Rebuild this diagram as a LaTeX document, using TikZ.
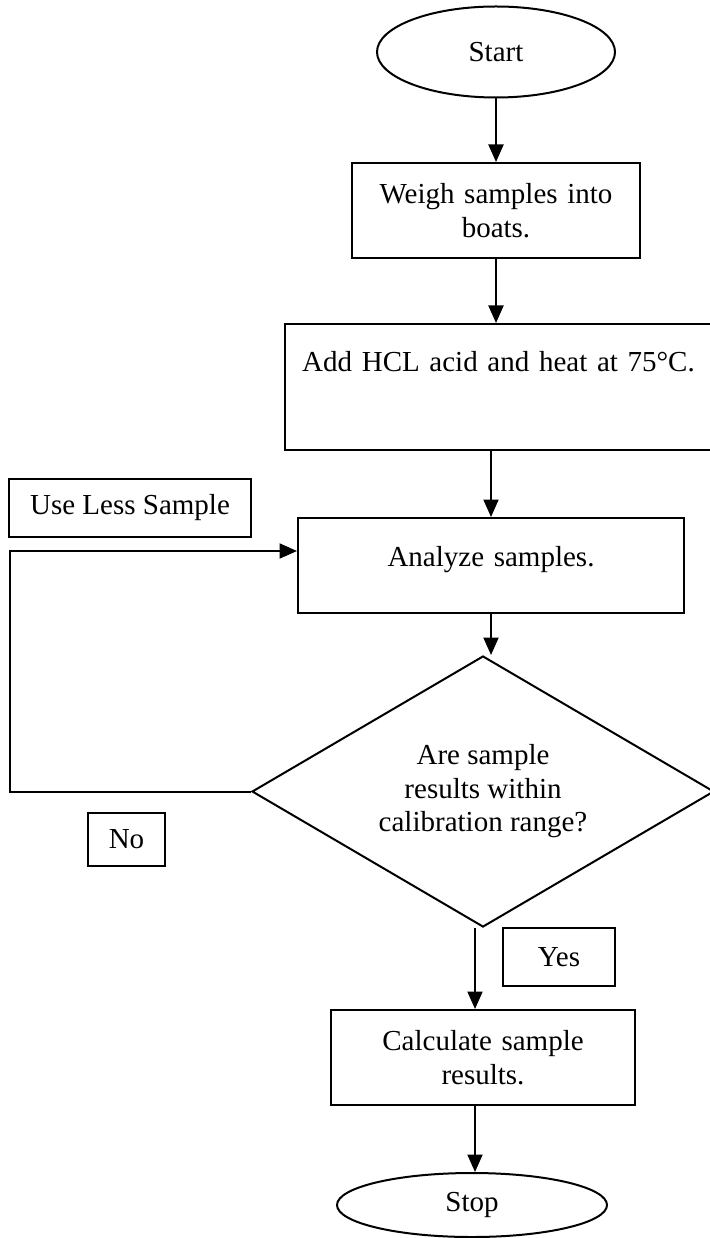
\documentclass[tikz,border=0pt]{standalone}
\usepackage{fontspec}
\setmainfont{Liberation Serif}
\usepackage{tikz}
\usetikzlibrary{positioning,arrows.meta,shapes.geometric}

\begin{document}
\begin{tikzpicture}[x=0.4pt, y=-0.4pt, align=center, line width=0.8pt,
    every node/.style={font=\fontsize{11.6}{13.4}\selectfont},
    box/.style={draw, rectangle, inner sep=0pt},
    terminal/.style={draw, ellipse, inner sep=0pt},
    flow/.style={-{Triangle[length=7pt, width=6pt]}}]
    \useasboundingbox (0,0) rectangle (709,1238);

    \node [terminal, minimum width=95.2pt, minimum height=36.4pt] (start) at (496,52) {Start};
    \node [box, minimum width=115.2pt, minimum height=38pt, text width=100pt] (weigh) at (496,210.5) {Weigh samples into\\boats.};
    \node [box, minimum width=170.8pt, text width=160pt, text height=18.8pt, text depth=31.6pt] (acid) at (498.5,387) {Add HCL acid and heat at 75°C.};
    \node [box, minimum width=96.8pt, minimum height=23.2pt] (lesssample) at (130,508) {Use Less Sample};
    \node [box, minimum width=154.4pt, text width=140pt, text height=19.2pt, text depth=18.8pt] (analyze) at (491,565.5) {Analyze samples.};
    \node [draw, diamond, aspect=1.7, inner sep=0pt, minimum width=184.8pt, minimum height=108.4pt] (check) at (483,791.5) {Are sample\\results within\\calibration range?};
    \node [box, minimum width=30.8pt, minimum height=21.2pt] (no) at (126.5,839.5) {No};
    \node [box, minimum width=44.8pt, minimum height=23.2pt] (yes) at (559,957) {Yes};
    \node [box, minimum width=121.6pt, minimum height=38pt, text width=108pt] (calc) at (483,1057.5) {Calculate sample\\results.};
    \node [terminal, minimum width=108pt, minimum height=25.6pt] (stop) at (472,1205) {Stop};

    \coordinate (loopleft) at (10,551);

    \draw [flow] (start) -- (weigh);
    \draw [flow] (weigh) -- (weigh |- acid.north);
    \draw [flow] (acid.south -| analyze) -- (analyze);
    \draw [flow] (analyze) -- (analyze |- check.north);
    \draw [flow] (check.west) -| (loopleft) -- (analyze.west |- loopleft);
    \draw [flow] ([xshift=-3.2pt]check.south) -- ([xshift=-3.2pt]calc.north);
    \draw [flow] ([xshift=-3.2pt]calc.south) -- ([xshift=-3.2pt]calc.south |- stop.north);
\end{tikzpicture}
\end{document}
